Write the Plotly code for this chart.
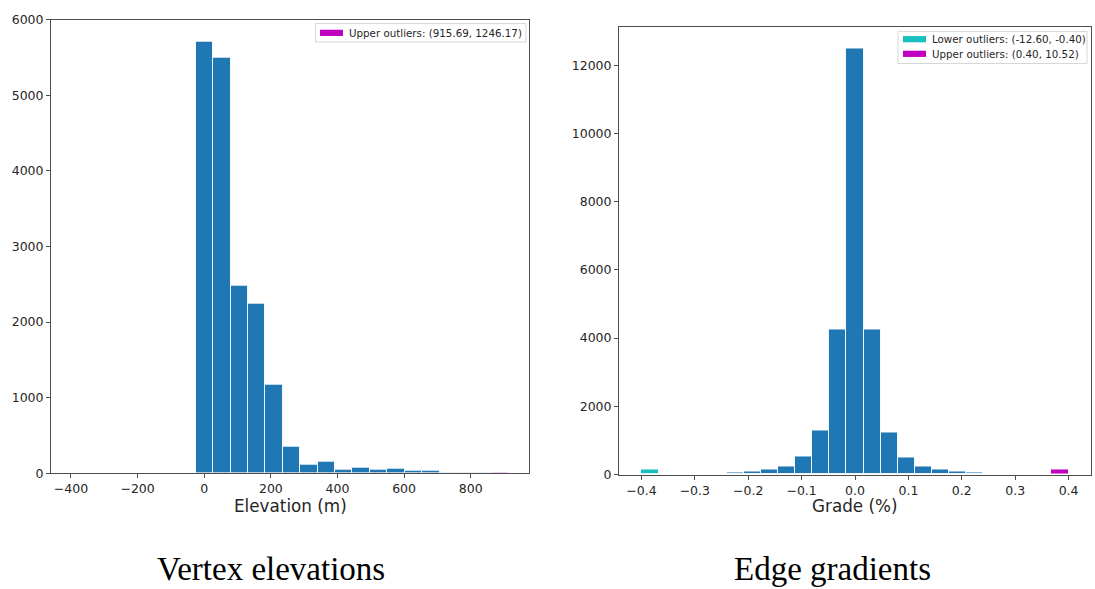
import plotly.graph_objects as go

# ---------------- data ----------------
# Vertex elevations histogram (m): 18 bins between -25.7 and 915.69
elev_bin_edges = [-25.7, 26.6, 78.9, 131.2, 183.5, 235.8, 288.1, 340.4, 392.7,
                  445.0, 497.3, 549.6, 601.9, 654.2, 706.5, 758.8, 811.1, 863.4, 915.69]
elev_counts = [5711, 5496, 2482, 2247, 1168, 351, 112, 157, 51, 77, 43, 64, 30, 34, 3, 10, 2, 0]
elev_upper_outliers = [0, 0, 0, 0, 0, 0, 0, 0, 0, 0, 0, 0, 0, 0, 0, 0, 0, 12]
elev_upper_label = "Upper outliers: (915.69, 1246.17)"

# Edge gradients histogram: 25 bins between -0.4 and 0.4
grade_bin_edges = [-0.4, -0.368, -0.336, -0.304, -0.272, -0.24, -0.208, -0.176, -0.144,
                   -0.112, -0.08, -0.048, -0.016, 0.016, 0.048, 0.08, 0.112, 0.144,
                   0.176, 0.208, 0.24, 0.272, 0.304, 0.336, 0.368, 0.4]
grade_counts = [0, 0, 3, 10, 30, 57, 95, 154, 240, 534, 1287, 4240, 12500, 4245, 1240,
                497, 248, 153, 76, 48, 19, 19, 5, 2, 0]
grade_lower_outliers = [154] + [0] * 24
grade_upper_outliers = [0] * 24 + [134]
grade_lower_label = "Lower outliers: (-12.60, -0.40)"
grade_upper_label = "Upper outliers: (0.40, 10.52)"

elev_ticks = [-400, -200, 0, 200, 400, 600, 800]
elev_yticks = [0, 1000, 2000, 3000, 4000, 5000, 6000]
grade_ticks = [-0.4, -0.3, -0.2, -0.1, 0.0, 0.1, 0.2, 0.3, 0.4]
grade_yticks = [0, 2000, 4000, 6000, 8000, 10000, 12000]

# ---------------- helpers ----------------
W, H = 1095, 589
BLUE = "#1f77b4"
CYAN = "#17bfbf"
MAGENTA = "#bf00bf"
FRAME = "#4d4d4d"
TXT = "#262626"


def centers(edges):
    return [(a + b) / 2 for a, b in zip(edges[:-1], edges[1:])]


def widths(edges):
    return [b - a for a, b in zip(edges[:-1], edges[1:])]


def px(x):
    return x / W


def py(y):
    return 1 - y / H


fig = go.Figure()

bar_line = dict(color="rgba(255,255,255,0.9)", width=1)

fig.add_trace(go.Bar(x=centers(elev_bin_edges), y=elev_counts, width=widths(elev_bin_edges),
                     marker=dict(color=BLUE, line=bar_line), xaxis="x", yaxis="y",
                     showlegend=False))
fig.add_trace(go.Bar(x=centers(elev_bin_edges), y=elev_upper_outliers, width=widths(elev_bin_edges),
                     marker=dict(color=MAGENTA, line=bar_line), xaxis="x", yaxis="y",
                     showlegend=False))

fig.add_trace(go.Bar(x=centers(grade_bin_edges), y=grade_counts, width=widths(grade_bin_edges),
                     marker=dict(color=BLUE, line=bar_line), xaxis="x2", yaxis="y2",
                     showlegend=False))
fig.add_trace(go.Bar(x=centers(grade_bin_edges), y=grade_lower_outliers, width=widths(grade_bin_edges),
                     marker=dict(color=CYAN, line=bar_line), xaxis="x2", yaxis="y2",
                     showlegend=False))
fig.add_trace(go.Bar(x=centers(grade_bin_edges), y=grade_upper_outliers, width=widths(grade_bin_edges),
                     marker=dict(color=MAGENTA, line=bar_line), xaxis="x2", yaxis="y2",
                     showlegend=False))

axis_common = dict(showline=True, mirror=True, linecolor=FRAME, linewidth=1,
                   ticks="outside", ticklen=4, tickwidth=1, tickcolor=FRAME,
                   showgrid=False, zeroline=False,
                   tickfont=dict(family="DejaVu Sans", size=12.5, color=TXT))

fig.update_layout(
    width=W, height=H,
    margin=dict(l=0, r=0, t=0, b=0),
    paper_bgcolor="white", plot_bgcolor="white",
    barmode="overlay", bargap=0,
    xaxis=dict(domain=[px(51), px(529)], range=[-460, 975], anchor="y",
               tickvals=elev_ticks, **axis_common),
    yaxis=dict(domain=[py(477.5), py(12)], range=[0, 6000], anchor="x",
               tickvals=elev_yticks, tickformat="d", **axis_common),
    xaxis2=dict(domain=[px(619), px(1091)], range=[-0.442, 0.442], anchor="y2",
                tickvals=grade_ticks, tickformat=".1f", **axis_common),
    yaxis2=dict(domain=[py(478.7), py(19)], range=[0, 13134], anchor="x2",
                tickvals=grade_yticks, tickformat="d", **axis_common),
)

annotations = []
shapes = []

# axis titles
annotations.append(dict(text="Elevation (m)", x=px(290), y=py(511), xref="paper", yref="paper",
                        showarrow=False, xanchor="center", yanchor="middle",
                        font=dict(family="DejaVu Sans", size=16.8, color=TXT)))
annotations.append(dict(text="Grade (%)", x=px(855), y=py(511), xref="paper", yref="paper",
                        showarrow=False, xanchor="center", yanchor="middle",
                        font=dict(family="DejaVu Sans", size=16.8, color=TXT)))

# captions
annotations.append(dict(text="Vertex elevations", x=px(271), y=py(576), xref="paper", yref="paper",
                        showarrow=False, xanchor="center", yanchor="middle",
                        font=dict(family="Liberation Serif", size=33, color="black")))
annotations.append(dict(text="Edge gradients", x=px(832), y=py(576), xref="paper", yref="paper",
                        showarrow=False, xanchor="center", yanchor="middle",
                        font=dict(family="Liberation Serif", size=33, color="black")))

# legends (drawn manually to match the matplotlib look)
legend_font = dict(family="DejaVu Sans", size=10.3, color=TXT)


def legend_box(x0, y0, x1, y1):
    shapes.append(dict(type="rect", xref="paper", yref="paper",
                       x0=px(x0), x1=px(x1), y0=py(y1), y1=py(y0),
                       line=dict(color="#d6d6d6", width=1), fillcolor="rgba(255,255,255,0.85)",
                       layer="above"))


def legend_item(xs, yc, color, label):
    shapes.append(dict(type="rect", xref="paper", yref="paper",
                       x0=px(xs), x1=px(xs + 23), y0=py(yc + 3.2), y1=py(yc - 3.2),
                       line=dict(width=0), fillcolor=color, layer="above"))
    annotations.append(dict(text=label, x=px(xs + 27), y=py(yc), xref="paper", yref="paper",
                            showarrow=False, xanchor="left", yanchor="middle", font=legend_font))


legend_box(315.5, 16, 526, 35)
legend_item(320, 25.5, MAGENTA, elev_upper_label)

legend_box(898, 24, 1087, 57)
legend_item(903, 32, CYAN, grade_lower_label)
legend_item(903, 47, MAGENTA, grade_upper_label)

fig.update_layout(annotations=annotations, shapes=shapes)

fig.write_html("out.html")
